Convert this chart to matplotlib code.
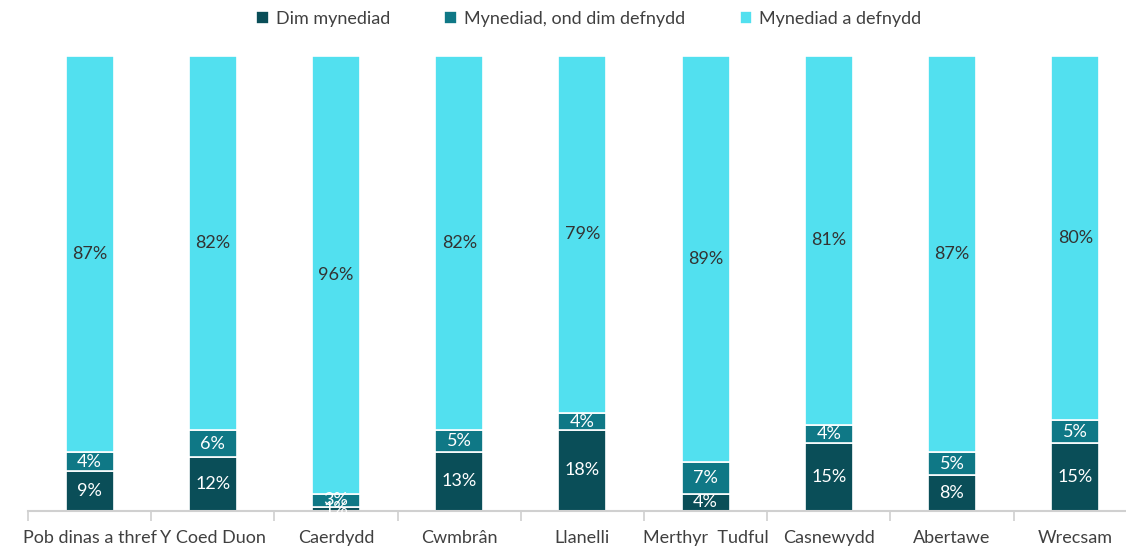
import matplotlib
matplotlib.use("Agg")
import matplotlib.pyplot as plt
import numpy as np

categories = ["Pob dinas a thref", "Y Coed Duon", "Caerdydd", "Cwmbrân", "Llanelli",
              "Merthyr  Tudful", "Casnewydd", "Abertawe", "Wrecsam"]
series_names = ["Dim mynediad", "Mynediad, ond dim defnydd", "Mynediad a defnydd"]
dim_mynediad = [8.6, 11.7, 0.8, 12.9, 17.6, 3.6, 14.8, 7.7, 14.8]
mynediad_dim_defnydd = [4.3, 5.9, 2.8, 4.7, 3.8, 7.0, 4.0, 5.2, 5.1]
mynediad_a_defnydd = [87.1, 82.4, 96.4, 82.4, 78.6, 89.4, 81.2, 87.1, 80.1]

colors = ["#0A4E58", "#0F7886", "#52E0EF"]
label_colors = ["white", "white", "#333333"]

plt.rcParams['font.family'] = ['Lato', 'DejaVu Sans']

fig = plt.figure(figsize=(11.26, 5.52), dpi=100)
ax = fig.add_axes([28/1126, (552-510.5)/552, 1108.8/1126, (510.5-55.5)/552])

x = np.arange(len(categories))
bottom = np.zeros(len(categories))
handles = []
for vals, col, lc, name in zip([dim_mynediad, mynediad_dim_defnydd, mynediad_a_defnydd],
                               colors, label_colors, series_names):
    vals = np.array(vals)
    bars = ax.bar(x, vals, 0.39, bottom=bottom, color=col, edgecolor="white",
                  linewidth=1.2, label=name)
    handles.append(bars)
    for xi, b, v in zip(x, bottom, vals):
        ax.text(xi, b + v/2, "%.0f%%" % v, ha="center", va="center",
                color=lc, fontsize=13)
    bottom += vals

ax.set_xlim(-0.5, len(categories) - 0.5)
ax.set_ylim(0, 100)
ax.set_yticks([])
for s in ["left", "right", "top"]:
    ax.spines[s].set_visible(False)
ax.spines["bottom"].set_color("#D0D0D0")
ax.spines["bottom"].set_linewidth(1.5)
ax.set_xticks(x)
ax.set_xticklabels(categories, fontsize=13, color="#404040")
ax.tick_params(axis="x", which="major", length=0, pad=14)
ax.set_xticks(np.arange(-0.5, len(categories), 1.0), minor=True)
ax.tick_params(axis="x", which="minor", length=7, color="#D0D0D0", width=1.2)

fig.legend(handles=handles, labels=series_names, loc="upper center",
           bbox_to_anchor=(0.523, 1.01), ncol=3, frameon=False, fontsize=13,
           handlelength=0.7, handleheight=0.7, handletextpad=0.4,
           columnspacing=3.0, labelcolor="#404040")

fig.savefig("out.png", dpi=100)
